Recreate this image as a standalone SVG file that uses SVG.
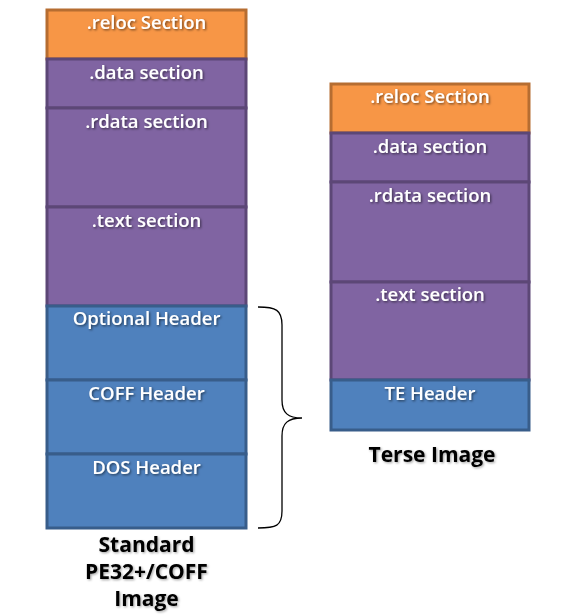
<svg xmlns="http://www.w3.org/2000/svg" width="562" height="616" viewBox="0 0 562 616">
<defs>
<filter id="sh" x="-10%" y="-30%" width="130%" height="170%">
<feDropShadow dx="1.2" dy="1.2" stdDeviation="0.8" flood-color="#000" flood-opacity="0.55"/>
</filter>
<filter id="sh2" x="-10%" y="-30%" width="130%" height="170%">
<feDropShadow dx="1.2" dy="1.2" stdDeviation="0.8" flood-color="#000" flood-opacity="0.35"/>
</filter>
</defs>
<style>
.o{fill:#F79646;stroke:#B66D31;stroke-width:3}
.p{fill:#8064A2;stroke:#5C4776;stroke-width:3}
.b{fill:#4F81BD;stroke:#385D8A;stroke-width:3}
.t{font-family:"Open Sans","Liberation Sans",sans-serif;font-size:18.5px;font-weight:600;fill:#fff;text-anchor:middle;filter:url(#sh)}
.c{font-family:"Open Sans","Liberation Sans",sans-serif;font-size:21px;font-weight:bold;fill:#000;text-anchor:middle;filter:url(#sh2)}
</style>
<g id="pe-reloc"><rect class="o" x="47" y="10" width="199" height="49"/><text class="t" x="146.5" y="29">.reloc Section</text></g>
<g id="pe-data"><rect class="p" x="47" y="59" width="199" height="49"/><text class="t" x="146.5" y="79">.data section</text></g>
<g id="pe-rdata"><rect class="p" x="47" y="108" width="199" height="99"/><text class="t" x="146.5" y="128">.rdata section</text></g>
<g id="pe-text"><rect class="p" x="47" y="207" width="199" height="99"/><text class="t" x="146.5" y="227">.text section</text></g>
<g id="pe-opt"><rect class="b" x="47" y="306" width="199" height="74"/><text class="t" x="146.5" y="325">Optional Header</text></g>
<g id="pe-coff"><rect class="b" x="47" y="380" width="199" height="74"/><text class="t" x="146.5" y="400">COFF Header</text></g>
<g id="pe-dos"><rect class="b" x="47" y="454" width="199" height="74"/><text class="t" x="146.5" y="474">DOS Header</text></g>
<g id="te-reloc"><rect class="o" x="331" y="84" width="198" height="49"/><text class="t" x="430" y="103">.reloc Section</text></g>
<g id="te-data"><rect class="p" x="331" y="133" width="198" height="49"/><text class="t" x="430" y="153">.data section</text></g>
<g id="te-rdata"><rect class="p" x="331" y="182" width="198" height="100"/><text class="t" x="430" y="202">.rdata section</text></g>
<g id="te-text"><rect class="p" x="331" y="282" width="198" height="98"/><text class="t" x="430" y="301">.text section</text></g>
<g id="te-hdr"><rect class="b" x="331" y="380" width="198" height="50"/><text class="t" x="430" y="400">TE Header</text></g>
<g id="connectors">
<path d="M258,307 C276,307 282,310 282,325 L282,400 C282,413 288,418 302,418 C288,418 282,423 282,436 L282,511 C282,526 276,528 258,528" fill="none" stroke="#000" stroke-width="1.3"/>
</g>
<g id="labels">
<text class="c" x="146.5" y="552">Standard</text>
<text class="c" x="146.5" y="579">PE32+/COFF</text>
<text class="c" x="146.5" y="606">Image</text>
<text class="c" x="432" y="462">Terse Image</text>
</g>
</svg>
